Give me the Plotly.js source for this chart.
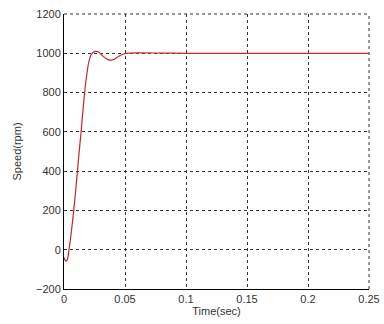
<!DOCTYPE html>
<html>
<head>
<meta charset="utf-8">
<script src="https://cdn.plot.ly/plotly-3.0.1.min.js"></script>
<style>html,body{margin:0;padding:0;background:#fff;}#chart{width:384px;height:324px;}</style>
</head>
<body>
<div id="chart"></div>
<script>
const timeSec = [0, 0.001, 0.002, 0.003, 0.004, 0.006, 0.008, 0.010, 0.012, 0.014, 0.016, 0.018, 0.020, 0.022, 0.024, 0.026, 0.028, 0.030, 0.033, 0.036, 0.039, 0.042, 0.045, 0.048, 0.051, 0.06, 0.08, 0.1, 0.15, 0.2, 0.25];
const speedRpm = [-40, -55, -58, -45, -5, 90, 200, 330, 470, 600, 740, 860, 945, 990, 1005, 1010, 1008, 998, 980, 968, 965, 972, 985, 995, 1000, 1002, 1001, 1000, 1000, 1000, 1000];
const xTicks = [0, 0.05, 0.1, 0.15, 0.2, 0.25];
const xTickText = ['0', '0.05', '0.1', '0.15', '0.2', '0.25'];
const yTicks = [-200, 0, 200, 400, 600, 800, 1000, 1200];

const axisCommon = {
  showline: true, linecolor: '#000', linewidth: 1,
  showgrid: true, gridcolor: '#333', gridwidth: 1, griddash: '3px,3px',
  zeroline: false, ticks: '', mirror: false,
  tickfont: {family: 'Liberation Sans, Arial, sans-serif', size: 11, color: '#333'}
};

const frameLine = {color: '#333', width: 1, dash: '3px,3px'};

Plotly.newPlot('chart', [{
  x: timeSec, y: speedRpm, type: 'scatter', mode: 'lines',
  line: {color: '#c82828', width: 1.2, shape: 'spline', smoothing: 0.6}
}], {
  width: 384, height: 324,
  margin: {l: 64, r: 15, t: 14, b: 35},
  paper_bgcolor: '#fff', plot_bgcolor: '#fff',
  showlegend: false,
  xaxis: Object.assign({}, axisCommon, {
    range: [0, 0.25], tickvals: xTicks, ticktext: xTickText,
    title: {text: 'Time(sec)', font: {family: 'Liberation Sans, Arial, sans-serif', size: 11, color: '#333'}, standoff: 2}
  }),
  yaxis: Object.assign({}, axisCommon, {
    range: [-200, 1200], tickvals: yTicks,
    title: {text: 'Speed(rpm)', font: {family: 'Liberation Sans, Arial, sans-serif', size: 11, color: '#333'}, standoff: 12}
  }),
  shapes: [
    {type: 'line', xref: 'paper', yref: 'paper', x0: 0, x1: 1, y0: 1, y1: 1, line: frameLine, layer: 'below'},
    {type: 'line', xref: 'paper', yref: 'paper', x0: 1, x1: 1, y0: 0, y1: 1, line: frameLine, layer: 'below'}
  ]
}, {displayModeBar: false, staticPlot: true});
</script>
</body>
</html>
